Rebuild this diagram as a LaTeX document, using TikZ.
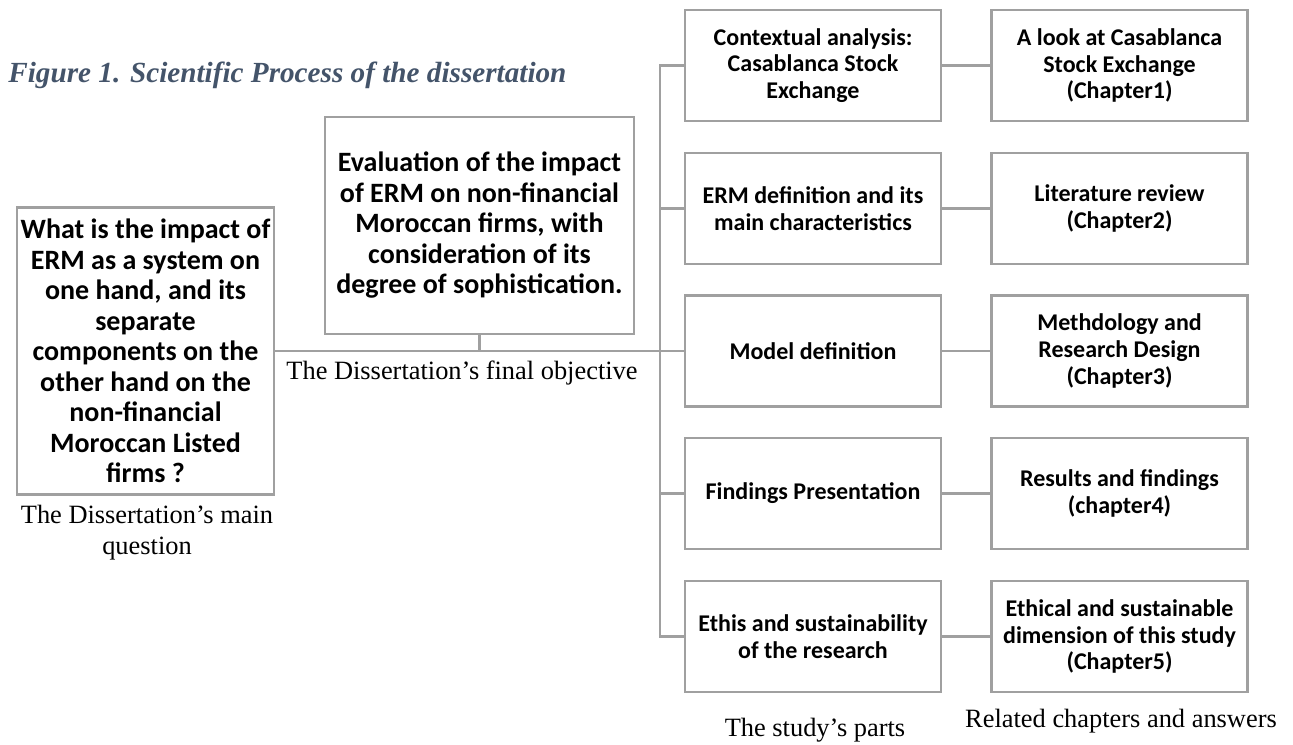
\documentclass[tikz,border=0pt]{standalone}
\usepackage{fontspec}
\setmainfont{Liberation Serif}
\newfontfamily\calibri{Carlito}
\usepackage{xcolor}
\definecolor{boxgray}{HTML}{A0A0A0}
\definecolor{titleblue}{HTML}{44546A}

\begin{document}
\begin{tikzpicture}[x=0.5pt, y=-0.5pt,
    box/.style={draw=boxgray, line width=1.25pt, align=center, inner sep=1pt, font=\calibri\bfseries\fontsize{14}{15.25}\selectfont},
    part/.style={box, minimum width=128pt, minimum height=55.5pt, font=\calibri\bfseries\fontsize{12}{13.4}\selectfont},
    lbl/.style={align=center, font=\fontsize{13.2}{15.5}\selectfont},
    link/.style={draw=boxgray, line width=1.25pt}]
    \useasboundingbox (0,0) rectangle (1293,744);
    \node[anchor=base west, inner sep=0pt, text=titleblue, font=\bfseries\itshape\fontsize{14.6}{18}\selectfont] (title) at (8,82) {Figure 1. Scientific Process of the dissertation};
    % question and objective
    \node[box, minimum width=128.5pt, minimum height=143.5pt] (quest) at (145.5,351) {What is the impact of\\ERM as a system on\\one hand, and its\\separate\\components on the\\other hand on the\\non-financial\\Moroccan Listed\\firms ?};
    \node[box, minimum width=154.5pt, minimum height=108.5pt] (obj) at (479.5,225.5) {Evaluation of the impact\\of ERM on non-financial\\Moroccan firms, with\\consideration of its\\degree of sophistication.};
    \node[lbl] (questlab) at (147,533) {The Dissertation’s main\\question};
    \node[lbl] (objlab) at (462,373) {The Dissertation’s final objective};
    % study parts
    \node[part] (p1) at (813,65.5) {Contextual analysis:\\Casablanca Stock\\Exchange};
    \node[part] (p2) at (813,208.5) {ERM definition and its\\main characteristics};
    \node[part] (p3) at (813,351) {Model definition};
    \node[part] (p4) at (813,493.5) {Findings Presentation};
    \node[part] (p5) at (813,636.5) {Ethis and sustainability\\of the research};
    % chapters
    \node[part] (c1) at (1119.5,65.5) {A look at Casablanca\\Stock Exchange\\(Chapter1)};
    \node[part] (c2) at (1119.5,208.5) {Literature review\\(Chapter2)};
    \node[part] (c3) at (1119.5,351) {Methdology and\\Research Design\\(Chapter3)};
    \node[part] (c4) at (1119.5,493.5) {Results and findings\\(chapter4)};
    \node[part] (c5) at (1119.5,636.5) {Ethical and sustainable\\dimension of this study\\(Chapter5)};
    \node[lbl] (partlab) at (815,730) {The study’s parts};
    \node[lbl] (chaplab) at (1121,721) {Related chapters and answers};
    % connectors
    \coordinate (trunk) at (660,351);
    \draw[link] (quest.east) -- (p3.west);
    \draw[link] (obj.south) -- (obj.south |- quest.east);
    \draw[link] (p1.west) -| (trunk) |- (p5.west);
    \draw[link] (p2.west) -- (p2.west -| trunk);
    \draw[link] (p4.west) -- (p4.west -| trunk);
    \draw[link] (p1) -- (c1);
    \draw[link] (p2) -- (c2);
    \draw[link] (p3) -- (c3);
    \draw[link] (p4) -- (c4);
    \draw[link] (p5) -- (c5);
\end{tikzpicture}
\end{document}
